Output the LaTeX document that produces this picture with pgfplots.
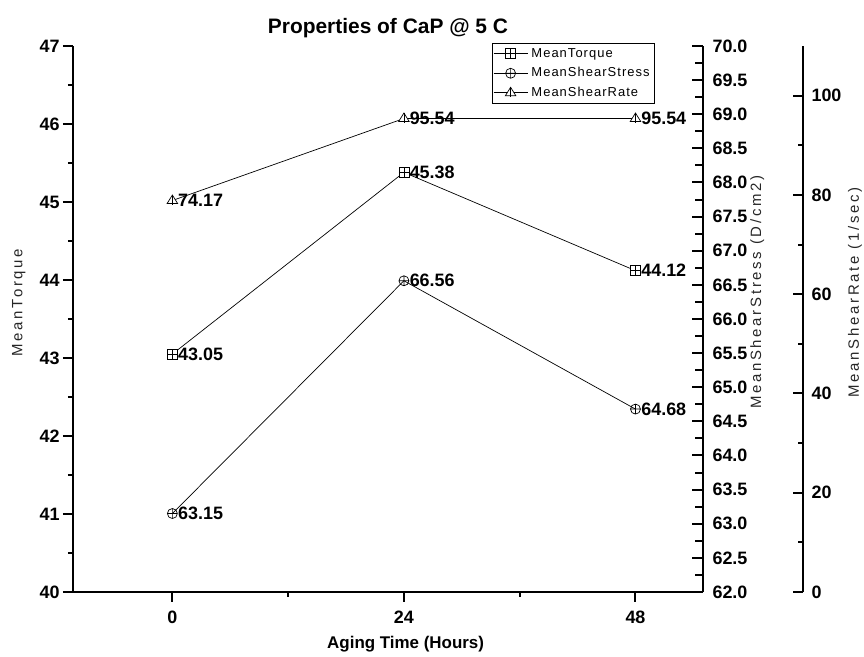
\documentclass[border=0pt]{standalone}
\usepackage{fontspec}
\setmainfont{Liberation Sans}
\newfontfamily\spacedfont[LetterSpace=18]{Liberation Sans}
\newfontfamily\legendfont[LetterSpace=8]{Liberation Sans}
\usepackage{pgfplots}
\pgfplotsset{compat=1.18}
\usetikzlibrary{plotmarks}

% square with a cross inside
\pgfdeclareplotmark{boxplus}{%
  \pgfpathrectangle{\pgfqpoint{-\pgfplotmarksize}{-\pgfplotmarksize}}%
    {\pgfqpoint{2\pgfplotmarksize}{2\pgfplotmarksize}}%
  \pgfusepathqfillstroke
  \pgfpathmoveto{\pgfqpoint{-\pgfplotmarksize}{0pt}}%
  \pgfpathlineto{\pgfqpoint{\pgfplotmarksize}{0pt}}%
  \pgfpathmoveto{\pgfqpoint{0pt}{-\pgfplotmarksize}}%
  \pgfpathlineto{\pgfqpoint{0pt}{\pgfplotmarksize}}%
  \pgfusepathqstroke}
% triangle with a vertical stroke
\pgfdeclareplotmark{triline}{%
  \pgfpathmoveto{\pgfqpoint{0pt}{1.1\pgfplotmarksize}}%
  \pgfpathlineto{\pgfqpoint{1.05\pgfplotmarksize}{-0.6\pgfplotmarksize}}%
  \pgfpathlineto{\pgfqpoint{-1.05\pgfplotmarksize}{-0.6\pgfplotmarksize}}%
  \pgfpathclose
  \pgfusepathqfillstroke
  \pgfpathmoveto{\pgfqpoint{0pt}{1.1\pgfplotmarksize}}%
  \pgfpathlineto{\pgfqpoint{0pt}{-0.9\pgfplotmarksize}}%
  \pgfusepathqstroke}

\pgfplotsset{
  every axis/.append style={
    scale only axis, width=630bp, height=546bp, clip=false,
    /pgf/number format/assume math mode=true,
    tick label style={font=\bfseries\fontsize{18}{18}\selectfont},
    axis line style={line width=2.2bp},
    major tick style={line width=2bp, black},
    minor tick style={line width=2bp, black},
  },
  series/.style={black, line width=0.7bp, mark size=5bp,
    mark options={fill=white, line width=0.7bp}},
  valuelabels/.style={
    nodes near coords,
    nodes near coords style={anchor=west, xshift=5bp, inner sep=0.5bp, text=black,
      font=\bfseries\fontsize{18}{18}\selectfont,
      /pgf/number format/.cd, fixed, fixed zerofill, precision=2},
  },
}

\begin{document}
\begin{tikzpicture}
\useasboundingbox (-73bp,-65bp) rectangle (791bp,592bp);

% MeanTorque on the left axis
\begin{axis}[
  at={(0,0)}, anchor=south west,
  xmin=-10.3, xmax=55, ymin=40, ymax=47,
  axis x line*=bottom, axis y line*=left,
  xtick={0,24,48}, minor xtick={12,36},
  ytick={40,41,...,47}, minor ytick={40.5,41.5,...,46.5},
  tick align=outside,
  major tick length=10bp, minor tick length=5bp,
  xticklabel style={yshift=-5bp},
  title={\bfseries\fontsize{21}{21}\selectfont Properties of CaP @ 5 C},
  title style={at={(axis description cs:0.5,1.004)}, anchor=south, inner sep=0pt},
  xlabel={\bfseries\fontsize{17}{17}\selectfont Aging Time (Hours)},
  xlabel style={at={(axis description cs:0.528,-0.096)}, anchor=center},
  ylabel={\spacedfont\fontsize{15}{15}\selectfont MeanTorque},
  ylabel style={at={(axis description cs:-0.086,0.53)}, anchor=center, text=black!85},
]
\addplot[series, mark=boxplus, valuelabels] coordinates {(0,43.05) (24,45.38) (48,44.12)};
\end{axis}

% MeanShearStress on the first right axis
\begin{axis}[
  at={(0,0)}, anchor=south west,
  xmin=-10.3, xmax=55, ymin=62, ymax=70,
  axis x line=none, axis y line*=right,
  ytick={62,62.5,...,70}, minor ytick={62.25,62.75,...,69.75},
  tick align=inside,
  major tick length=11bp, minor tick length=8bp,
  yticklabel style={xshift=6bp, /pgf/number format/.cd, fixed, fixed zerofill, precision=1},
  ylabel={\spacedfont\fontsize{15}{15}\selectfont MeanShearStress (D/cm2)},
  ylabel style={at={(axis description cs:1.086,0.549)}, anchor=center, text=black!85},
]
\addplot[series, mark=oplus, valuelabels] coordinates {(0,63.15) (24,66.56) (48,64.68)};
\end{axis}

% offset scale for MeanShearRate
\begin{axis}[
  at={(100bp,0)}, anchor=south west,
  xmin=0.065, xmax=65.365, ymin=0, ymax=110,
  axis x line=none, axis y line*=right,
  ytick={0,20,...,100}, minor ytick={10,30,...,90},
  tick align=inside,
  major tick length=10bp, minor tick length=5bp,
  yticklabel style={xshift=5bp},
  ylabel={\spacedfont\fontsize{15}{15}\selectfont MeanShearRate (1/sec)},
  ylabel style={at={(axis description cs:1.0825,0.549)}, anchor=center, text=black!85},
]
\addplot[draw=none] coordinates {(24,50)};
\end{axis}

% MeanShearRate series and the legend
\begin{axis}[
  at={(0,0)}, anchor=south west,
  xmin=-10.3, xmax=55, ymin=-27.86, ymax=114.44,
  hide axis,
  legend cell align=left,
  legend style={at={(axis description cs:0.665,1.006)}, anchor=north west,
    draw=black, line width=0.6bp, inner sep=1bp, row sep=0bp,
    font=\legendfont\fontsize{13}{13}\selectfont,
    nodes={text height=9.5bp, text depth=3bp, inner sep=3.5bp},
    legend image code/.code={%
      \draw[mark repeat=2, mark phase=2, #1] plot coordinates {(0bp,0bp) (17bp,0bp) (34bp,0bp)};}},
]
\addlegendimage{series, mark=boxplus}
\addlegendentry{MeanTorque}
\addlegendimage{series, mark=oplus}
\addlegendentry{MeanShearStress}
\addplot[series, mark=triline, valuelabels] coordinates {(0,74.17) (24,95.54) (48,95.54)};
\addlegendentry{MeanShearRate}
\end{axis}
\end{tikzpicture}
\end{document}
